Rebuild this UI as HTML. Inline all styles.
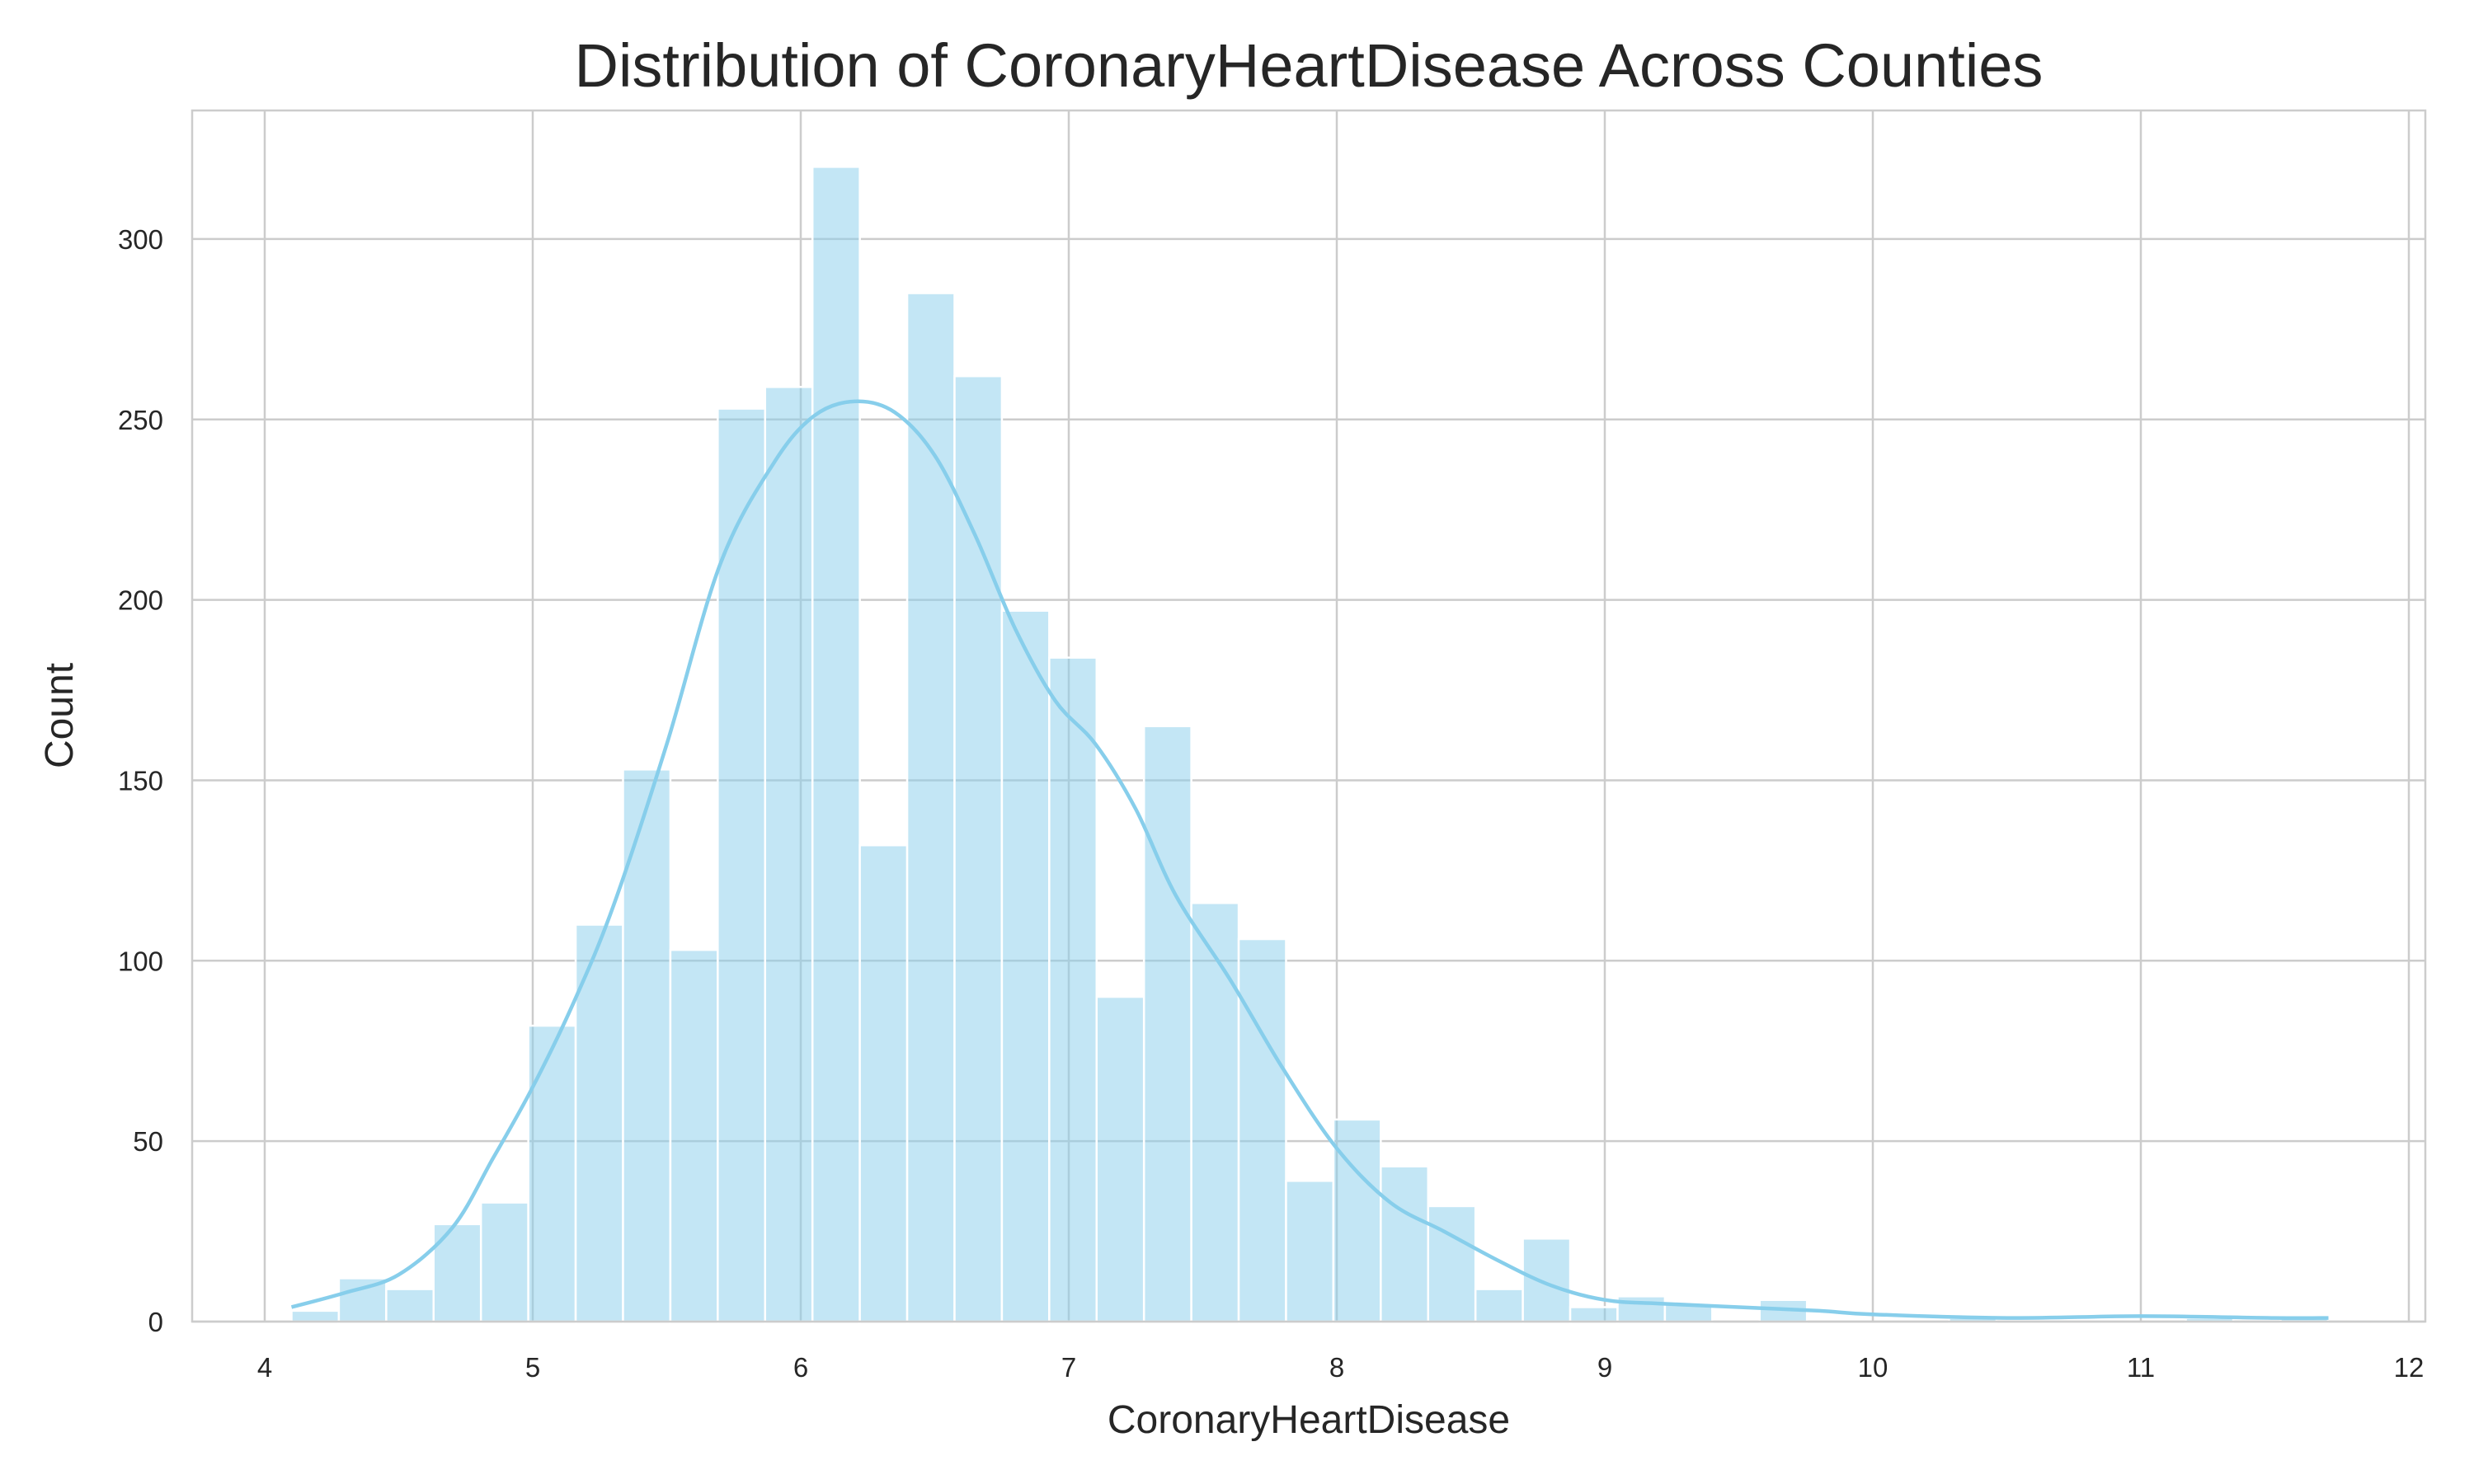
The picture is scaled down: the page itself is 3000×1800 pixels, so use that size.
<!DOCTYPE html>
<html><head><meta charset="utf-8"><style>html,body{margin:0;padding:0;background:#fff}svg{display:block}text{font-family:"Liberation Sans",sans-serif;fill:#262626}</style></head>
<body>
<svg id="chart" width="3000" height="1800" viewBox="0 0 3000 1800" xmlns="http://www.w3.org/2000/svg">
<rect width="3000" height="1800" fill="#fff"/>
<g id="grid"></g>
<g id="bars"></g>
<path id="kde" fill="none" stroke="#87CEEB" stroke-width="4.5"/>
<rect x="233" y="134" width="2708" height="1469" fill="none" stroke="#cccccc" stroke-width="2.5"/>
<g id="ticks"></g>
<text x="1587" y="105" font-size="74" text-anchor="middle">Distribution of CoronaryHeartDisease Across Counties</text>
<text x="1587" y="1738" font-size="48" text-anchor="middle">CoronaryHeartDisease</text>
<text x="88" y="868" font-size="48" text-anchor="middle" transform="rotate(-90 88 868)">Count</text>
</svg>
<script>
const binStart = 4.1;
const binWidth = 0.1767;
const counts = [3,12,9,27,33,82,110,153,103,253,259,320,132,285,262,197,184,90,165,116,106,39,56,43,32,9,23,4,7,5,0,6,0,0,0,1,0,0,0,0,1,0,1];
const kdeX = [4.1,4.3,4.5,4.7,4.85,5.0,5.15,5.3,5.5,5.7,5.9,6.05,6.2,6.35,6.5,6.65,6.8,6.95,7.1,7.25,7.4,7.6,7.8,8.0,8.2,8.4,8.6,8.8,9.0,9.2,9.5,9.8,10.0,10.5,11.0,11.5,11.7];
const kdeY = [4,8,13,26,45,65,88,115,160,210,238,251,255,252,240,218,192,172,160,142,118,95,70,48,33,25,17,10,6,5,4,3,2,1,1.5,1,1];
const xTicks = [4,5,6,7,8,9,10,11,12];
const yTicks = [0,50,100,150,200,250,300];

const X0=233,X1=2941,Y0=1603,Y1=134;
const xs = v => 321 + (v-4)*325;
const ys = v => 1603 - v*4.377;
const NS="http://www.w3.org/2000/svg";
function mk(tag,attrs,parent){const e=document.createElementNS(NS,tag);for(const k in attrs)e.setAttribute(k,attrs[k]);parent.appendChild(e);return e;}
const grid=document.getElementById('grid'),bars=document.getElementById('bars'),ticks=document.getElementById('ticks');
xTicks.forEach(t=>{
  const l=mk('line',{x1:xs(t),x2:xs(t),y1:Y1,y2:Y0,stroke:'#cccccc','stroke-width':2.5},grid);
  
  
  const tx=mk('text',{x:xs(t),y:1670,'font-size':33,'text-anchor':'middle'},ticks);
  tx.textContent=t;
  
  
});
yTicks.forEach(t=>{
  const l=mk('line',{x1:X0,x2:X1,y1:ys(t),y2:ys(t),stroke:'#cccccc','stroke-width':2.5},grid);
  
  
  const tx=mk('text',{x:198,y:ys(t)+12,'font-size':33,'text-anchor':'end'},ticks);
  tx.textContent=t;
  
  
});
counts.forEach((c,i)=>{
  if(c<=0)return;
  const a=xs(binStart+i*binWidth),b=xs(binStart+(i+1)*binWidth);
  const r=mk('rect',{x:a,y:ys(c),width:b-a,height:Y0-ys(c),fill:'#87CEEB','fill-opacity':0.5,stroke:'#ffffff','stroke-width':2.5},bars);
  
  
});
const P=kdeX.map((x,i)=>[xs(x),ys(kdeY[i])]);
let d='M'+P[0][0].toFixed(1)+','+P[0][1].toFixed(1);
for(let i=0;i<P.length-1;i++){
  const p0=P[Math.max(0,i-1)],p1=P[i],p2=P[i+1],p3=P[Math.min(P.length-1,i+2)];
  const c1=[p1[0]+(p2[0]-p0[0])/6,p1[1]+(p2[1]-p0[1])/6];
  const c2=[p2[0]-(p3[0]-p1[0])/6,p2[1]-(p3[1]-p1[1])/6];
  d+='C'+c1.map(v=>v.toFixed(1)).join(',')+' '+c2.map(v=>v.toFixed(1)).join(',')+' '+p2.map(v=>v.toFixed(1)).join(',');
}
document.getElementById('kde').setAttribute('d',d);
</script>
</body></html>
